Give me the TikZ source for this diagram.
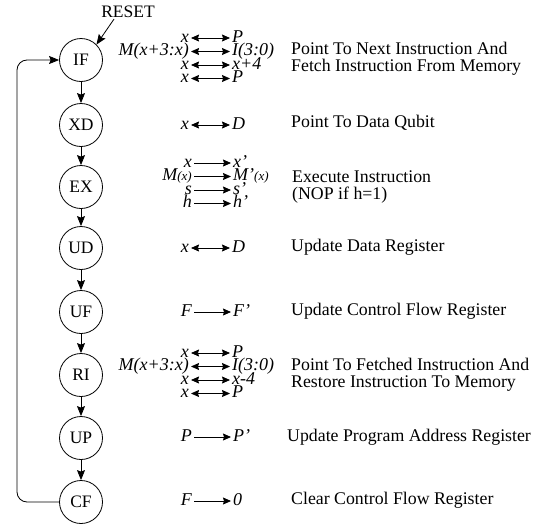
\documentclass[tikz,border=0pt]{standalone}
\usepackage{fontspec}
\setmainfont{Liberation Serif}
\usetikzlibrary{arrows.meta,calc}

\begin{document}
\begin{tikzpicture}[x=1pt, y=-1pt,
  state/.style={draw, circle, line width=0.8pt, minimum size=43pt, inner sep=0pt,
    font=\fontsize{17.5}{18}\selectfont},
  lhs/.style={anchor=east, inner xsep=2pt, inner ysep=0.2pt, text height=10pt, text depth=2pt,
    font=\fontsize{18}{18}\selectfont\itshape},
  rhs/.style={lhs, anchor=west},
  desc/.style={anchor=west, align=left, inner sep=0pt, font=\fontsize{17.8}{17}\selectfont},
  flow/.style={-{Stealth[length=10pt, width=8pt, inset=1.5pt]}, line width=0.8pt},
  xchg/.style={{Stealth[length=8pt, width=7pt, inset=1pt]}-{Stealth[length=8pt, width=7pt, inset=1pt]}, line width=0.8pt},
  assign/.style={-{Stealth[length=8pt, width=7pt, inset=1pt]}, line width=0.8pt}
]
\useasboundingbox (0,0) rectangle (549,525);

% pipeline states
\node[state] (if) at (81,60) {IF};
\node[state] (xd) at (81,125) {XD};
\node[state] (ex) at (81,187) {EX};
\node[state] (ud) at (81,248) {UD};
\node[state] (uf) at (81,312) {UF};
\node[state] (ri) at (81,375) {RI};
\node[state] (up) at (81,438) {UP};
\node[state] (cf) at (81,502) {CF};

\draw[flow] (if) -- (xd);
\draw[flow] (xd) -- (ex);
\draw[flow] (ex) -- (ud);
\draw[flow] (ud) -- (uf);
\draw[flow] (uf) -- (ri);
\draw[flow] (ri) -- (up);
\draw[flow] (up) -- (cf);

\coordinate (back) at (17,0);
\draw[flow, rounded corners=10pt] (cf.west) -- (cf.west -| back) |- (if.west);

\node[font=\fontsize{17.5}{18}\selectfont, inner sep=1pt] (reset) at (128,12) {RESET};
\draw[flow] ($(reset.south)!0.5!(reset.south west)$) -- (if.45);

% register transfers
\node[lhs] (a1) at (191,38) {x};          \node[rhs] (b1) at (230,38) {P};        \draw[xchg] (a1) -- (b1);
\node[lhs] (a2) at (191,51.5) {M(x+3:x)}; \node[rhs] (b2) at (230,51.5) {I(3:0)}; \draw[xchg] (a2) -- (b2);
\node[lhs] (a3) at (191,65) {x};          \node[rhs] (b3) at (230,65) {x+4};      \draw[xchg] (a3) -- (b3);
\node[lhs] (a4) at (191,78.5) {x};        \node[rhs] (b4) at (230,78.5) {P};      \draw[xchg] (a4) -- (b4);

\node[lhs] (a5) at (191,125) {x}; \node[rhs] (b5) at (230,125) {D}; \draw[xchg] (a5) -- (b5);

\node[lhs] (a6) at (194,163) {x};                                    \node[rhs] (b6) at (231,163) {x'};                                    \draw[assign] (a6) -- (b6);
\node[lhs] (a7) at (194,176.5) {M{\fontsize{13}{13}\selectfont(x)}}; \node[rhs] (b7) at (231,176.5) {M'{\fontsize{13}{13}\selectfont(x)}}; \draw[assign] (a7) -- (b7);
\node[lhs] (a8) at (194,190) {s};                                    \node[rhs] (b8) at (231,190) {s'};                                    \draw[assign] (a8) -- (b8);
\node[lhs] (a9) at (194,203.5) {h};                                  \node[rhs] (b9) at (231,203.5) {h'};                                  \draw[assign] (a9) -- (b9);

\node[lhs] (a10) at (191,248) {x}; \node[rhs] (b10) at (230,248) {D};  \draw[xchg] (a10) -- (b10);
\node[lhs] (a11) at (194,312) {F}; \node[rhs] (b11) at (231,312) {F'}; \draw[assign] (a11) -- (b11);

\node[lhs] (a12) at (191,353) {x};          \node[rhs] (b12) at (230,353) {P};        \draw[xchg] (a12) -- (b12);
\node[lhs] (a13) at (191,366.5) {M(x+3:x)}; \node[rhs] (b13) at (230,366.5) {I(3:0)}; \draw[xchg] (a13) -- (b13);
\node[lhs] (a14) at (191,380) {x};          \node[rhs] (b14) at (230,380) {x-4};      \draw[xchg] (a14) -- (b14);
\node[lhs] (a15) at (191,393.5) {x};        \node[rhs] (b15) at (230,393.5) {P};      \draw[xchg] (a15) -- (b15);

\node[lhs] (a16) at (194,437) {P}; \node[rhs] (b16) at (231,437) {P'}; \draw[assign] (a16) -- (b16);
\node[lhs] (a17) at (194,501) {F}; \node[rhs] (b17) at (231,501) {0};  \draw[assign] (a17) -- (b17);

% descriptions
\node[desc] (dif) at (291,59) {Point To Next Instruction And\\Fetch Instruction From Memory};
\node[desc] (dxd) at (291,123) {Point To Data Qubit};
\node[desc] (dex) at (292,187) {Execute Instruction\\(NOP if h=1)};
\node[desc] (dud) at (291,247) {Update Data Register};
\node[desc] (duf) at (291,311) {Update Control Flow Register};
\node[desc] (dri) at (291,375) {Point To Fetched Instruction And\\Restore Instruction To Memory};
\node[desc] (dup) at (287,437) {Update Program Address Register};
\node[desc] (dcf) at (291,500) {Clear Control Flow Register};
\end{tikzpicture}
\end{document}
